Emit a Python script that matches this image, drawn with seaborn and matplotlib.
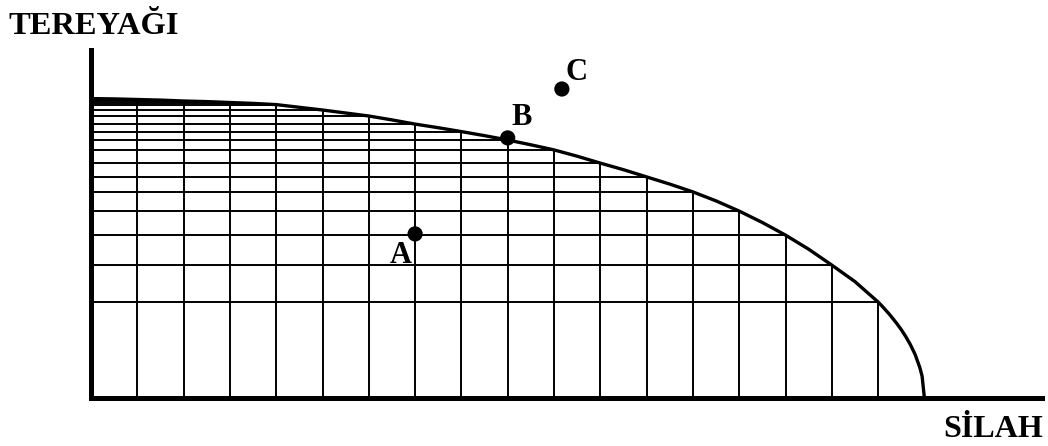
import numpy as np
import pandas as pd
import seaborn as sns
import matplotlib.pyplot as plt

# frontier heights (x = silah units, y = tereyagi units)
curve_x = [0, 0.5, 1, 1.5, 2, 2.5, 3, 3.5, 4, 4.5, 5, 5.5, 6, 6.5, 7, 7.5,
           8, 8.5, 9, 9.5, 10, 10.5, 11, 11.5, 12, 12.5, 13, 13.5, 14, 14.5,
           15, 15.5, 16, 16.5, 17, 17.1, 17.25, 17.4, 17.5, 17.6, 17.7,
           17.8, 17.9, 17.95, 18]
curve_y = [9.98, 9.97, 9.95, 9.93, 9.9, 9.88, 9.85, 9.82, 9.78, 9.69, 9.6,
           9.5, 9.4, 9.27, 9.13, 9.01, 8.88, 8.745, 8.6, 8.44, 8.27, 8.06,
           7.83, 7.61, 7.37, 7.13, 6.87, 6.57, 6.23, 5.85, 5.43, 4.96, 4.43,
           3.88, 3.2, 3.04, 2.78, 2.49, 2.28, 2.04, 1.77, 1.45, 1.02, 0.73, 0]

# grid steps: one vertical / horizontal line per unit of silah
grid_x = [1, 2, 3, 4, 5, 6, 7, 8, 9, 10, 11, 12, 13, 14, 15, 16, 17]
grid_y = [9.95, 9.9, 9.85, 9.78, 9.6, 9.4, 9.13, 8.88, 8.6, 8.27, 7.83,
          7.37, 6.87, 6.23, 5.43, 4.43, 3.2]

point_labels = ['A', 'B', 'C']
point_x = [7.0, 9.0, 10.17]
point_y = [5.47, 8.67, 10.3]

sns.set_style('white')
plt.rcParams['font.family'] = ['Liberation Serif', 'DejaVu Serif']
plt.rcParams['font.weight'] = 'bold'
plt.rcParams['text.color'] = 'black'

W, H = 1048, 446
fig = plt.figure(figsize=(W / 100, H / 100), dpi=100)
ax = fig.add_axes([91 / W, 48 / H, 951 / W, 348 / H])
ax.set_xlim(0, 951 / 46.3)
ax.set_ylim(0, 348 / 30)

# grid inside the frontier
ax.vlines(grid_x, 0, grid_y, color='black', lw=1.4)
ax.hlines(grid_y, 0, grid_x, color='black', lw=1.4)

# frontier
df = pd.DataFrame({'silah': curve_x, 'tereyagi': curve_y})
sns.lineplot(data=df, x='silah', y='tereyagi', sort=False, color='black',
             lw=2.4, ax=ax)

# points
pts = pd.DataFrame({'x': point_x, 'y': point_y, 'lab': point_labels})
sns.scatterplot(data=pts, x='x', y='y', color='black', s=120,
                edgecolor='none', ax=ax, zorder=5, clip_on=False)
offsets = {'A': (-0.3, -0.72), 'B': (0.3, 0.68), 'C': (0.32, 0.55)}
for lab, x, y in zip(point_labels, point_x, point_y):
    dx, dy = offsets[lab]
    ax.text(x + dx, y + dy, lab, fontsize=22, fontweight='bold',
            color='black', ha='center', va='center')

# axes
for s in ['top', 'right']:
    ax.spines[s].set_visible(False)
for s in ['left', 'bottom']:
    ax.spines[s].set_linewidth(3.6)
    ax.spines[s].set_color('black')
ax.set_xticks([])
ax.set_yticks([])
ax.set_xlabel('')
ax.set_ylabel('')

fig.text(8 / W, 1 - 34 / H, 'TEREYAĞI', fontsize=23.4, fontweight='bold',
         color='black', ha='left', va='baseline')
fig.text(1043 / W, 1 - 437 / H, 'SİLAH', fontsize=23, fontweight='bold',
         color='black', ha='right', va='baseline')

fig.savefig('out.png', dpi=100)
